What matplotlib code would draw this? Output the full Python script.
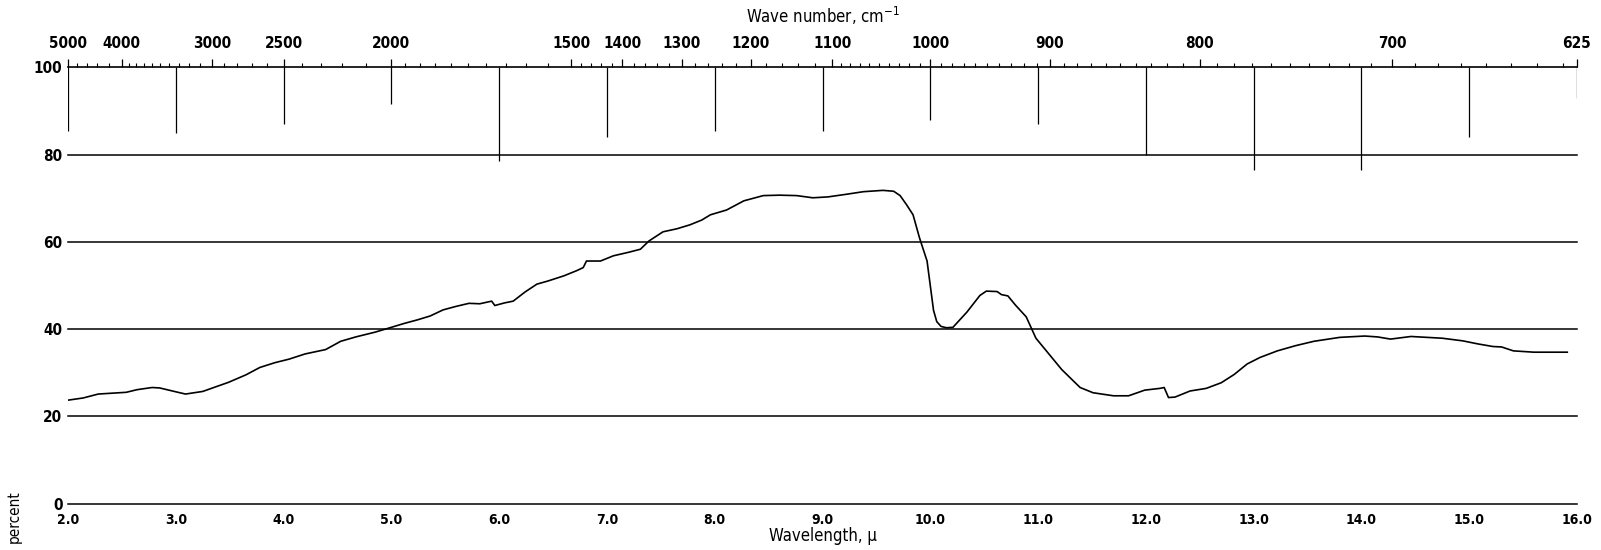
import numpy as np
import matplotlib
matplotlib.use("Agg")
import matplotlib.pyplot as plt
from matplotlib.ticker import FixedLocator

plt.rcParams["font.family"] = ["DejaVu Sans"]
plt.rcParams["font.stretch"] = "condensed"

# transmission trace (wavelength in microns, percent)
wavelength = [
    2.00, 2.14, 2.28, 2.54, 2.64, 2.78, 2.85, 3.02, 3.09, 3.25, 3.49, 3.65,
    3.78, 3.92, 4.05, 4.20, 4.39, 4.53, 4.67, 4.85, 5.00, 5.12, 5.24, 5.36,
    5.48, 5.60, 5.72, 5.82, 5.93, 5.96, 6.05, 6.13, 6.24, 6.35, 6.45, 6.60,
    6.72, 6.78, 6.81, 6.94, 7.06, 7.20, 7.31, 7.39, 7.52, 7.65, 7.77, 7.88,
    7.96, 8.11, 8.27, 8.45, 8.60, 8.76, 8.91, 9.05, 9.22, 9.38, 9.56, 9.66,
    9.72, 9.78, 9.84, 9.90, 9.97, 10.03, 10.06, 10.10, 10.15, 10.21, 10.34,
    10.46, 10.52, 10.62, 10.66, 10.72, 10.79, 10.89, 10.98, 11.08, 11.22,
    11.39, 11.51, 11.70, 11.84, 11.99, 12.13, 12.17, 12.21, 12.27, 12.41,
    12.56, 12.70, 12.82, 12.94, 13.06, 13.22, 13.39, 13.56, 13.80, 14.03,
    14.15, 14.27, 14.46, 14.75, 14.94, 15.08, 15.22, 15.30, 15.41, 15.60,
    15.91,
]
transmission = [
    23.7, 24.2, 25.1, 25.5, 26.1, 26.6, 26.5, 25.5, 25.1, 25.7, 27.8, 29.5,
    31.2, 32.3, 33.1, 34.3, 35.3, 37.2, 38.2, 39.3, 40.4, 41.3, 42.1, 43.0,
    44.4, 45.2, 45.9, 45.8, 46.4, 45.4, 46.0, 46.4, 48.5, 50.3, 51.0, 52.2,
    53.4, 54.1, 55.6, 55.6, 56.8, 57.6, 58.3, 60.2, 62.3, 63.0, 63.9, 65.0,
    66.2, 67.3, 69.4, 70.6, 70.7, 70.6, 70.1, 70.3, 70.9, 71.5, 71.8, 71.6,
    70.6, 68.5, 66.2, 60.9, 55.6, 44.3, 41.7, 40.6, 40.3, 40.4, 43.9,
    47.7, 48.7, 48.6, 47.9, 47.6, 45.5, 42.8, 37.9, 34.9, 30.7,
    26.6, 25.4, 24.7, 24.7, 26.0, 26.4, 26.6, 24.3, 24.4, 25.8,
    26.4, 27.7, 29.6, 32.0, 33.5, 35.0, 36.2, 37.2, 38.1, 38.4,
    38.2, 37.7, 38.3, 37.9, 37.3, 36.6, 36.0, 35.9, 35.0, 34.7,
    34.7,
]

# reference marks hanging from the 100 % line at every micron
mark_wavelength = list(range(2, 17))
mark_bottom = [85.5, 85.0, 87.0, 91.5, 78.5, 84.0, 85.5, 85.5, 88.0, 87.0,
               80.0, 76.5, 76.5, 84.0, 93.0]

grid_levels = [0, 20, 40, 60, 80]
y_ticks = [0, 20, 40, 60, 80, 100]
x_ticks = [2.0, 3.0, 4.0, 5.0, 6.0, 7.0, 8.0, 9.0, 10.0, 11.0, 12.0, 13.0,
           14.0, 15.0, 16.0]
wn_major = [5000, 4000, 3000, 2500, 2000, 1500, 1400, 1300, 1200, 1100,
            1000, 900, 800, 700, 625]
wn_minor = (list(range(4800, 4000, -200)) + list(range(3900, 2000, -100))
            + list(range(1950, 1500, -50)) + list(range(1480, 1100, -20))
            + list(range(1090, 620, -10)))


def to_wn(x):
    x = np.asarray(x, dtype=float)
    with np.errstate(divide="ignore"):
        return 1e4 / x


fig = plt.figure(figsize=(16.01, 5.5), dpi=100)
ax = fig.add_axes([0.0425, 0.0845, 0.9425, 0.793])

for lev in grid_levels:
    ax.axhline(lev, color="black", lw=1.1, clip_on=False)
ax.vlines(mark_wavelength, mark_bottom, 100, color="black", lw=0.9)
ax.plot(wavelength, transmission, color="black", lw=1.2)

ax.set_xlim(2, 16)
ax.set_ylim(0, 100)
for side in ("left", "right", "bottom"):
    ax.spines[side].set_visible(False)
ax.spines["top"].set_linewidth(1.2)

ax.set_xticks(x_ticks)
ax.set_xticklabels([f"{v:.1f}" for v in x_ticks], fontsize=10, fontweight="bold")
ax.set_yticks(y_ticks)
ax.set_yticklabels([str(v) for v in y_ticks], fontsize=11, fontweight="bold")
ax.tick_params(axis="both", length=0)
ax.tick_params(axis="x", pad=7)
ax.tick_params(axis="y", pad=4)
ax.set_xlabel("Wavelength, μ", fontsize=12, labelpad=0)

sec = ax.secondary_xaxis("top", functions=(to_wn, to_wn))
sec.xaxis.set_major_locator(FixedLocator(wn_major))
sec.xaxis.set_minor_locator(FixedLocator(wn_minor))
sec.set_xticklabels([str(v) for v in wn_major], fontsize=11, fontweight="bold")
sec.tick_params(axis="x", which="major", direction="out", length=6, width=0.9, pad=6)
sec.tick_params(axis="x", which="minor", direction="out", length=3, width=0.8)
sec.spines["top"].set_visible(False)
sec.set_xlabel("Wave number, cm$^{-1}$", fontsize=12, labelpad=9)

fig.text(0.004, 0.012, "percent", rotation=90, fontsize=11, va="bottom", ha="left")

fig.savefig("out.png", dpi=100)
